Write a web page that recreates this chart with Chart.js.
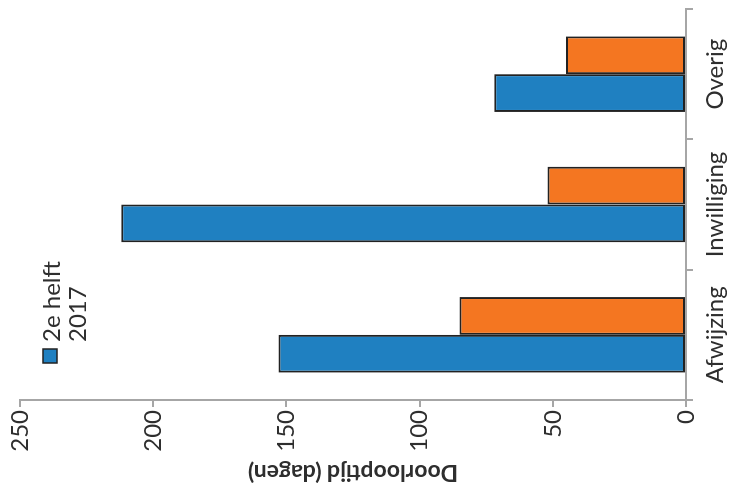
<!DOCTYPE html>
<html>
<head>
<meta charset="utf-8">
<script src="https://cdn.jsdelivr.net/npm/chart.js@4.4.1/dist/chart.umd.min.js"></script>
<style>
	html, body { margin: 0; padding: 0; background: #fff; }
	#frame { width: 731px; height: 496px; overflow: hidden; position: relative; }
	/* the chart is drawn upright and then turned a quarter to the left */
	#turn { position: absolute; left: 0; top: 0; width: 496px; height: 731px;
		transform-origin: 0 0; transform: translate(0, 496px) rotate(-90deg); }
</style>
</head>
<body>
<div id="frame"><div id="turn"><canvas id="chart" width="496" height="731"></canvas></div></div>
<script>
const categories = ['Afwijzing', 'Inwilliging', 'Overig'];
const seriesNames = ['2e helft 2017', '1e helft 2018'];
const blueValues = [153, 212, 72];
const orangeValues = [85, 52, 45];
const valueTicks = [0, 50, 100, 150, 200, 250];
const axisTitle = 'Doorlooptijd (dagen)';
const legendLines = ['2e helft', '2017'];

const axisGrey = '#a6a6a6';
const textColor = '#2e2e2e';
const fontFamily = 'Lato, "Open Sans", sans-serif';

let cornerLegend = {
	id: 'cornerLegend',
	afterDraw(chart) {
		const c = chart.ctx;
		const ds = chart.data.datasets[0];
		const left = chart.chartArea.left + 37;
		const top = chart.chartArea.top + 23;
		c.save();
		c.fillStyle = ds.backgroundColor;
		c.fillRect(left, top, 14, 14);
		c.strokeStyle = ds.borderColor;
		c.lineWidth = 1.5;
		c.strokeRect(left, top, 14, 14);
		c.fillStyle = textColor;
		c.font = '24px ' + fontFamily;
		c.textBaseline = 'alphabetic';
		for (let i = 0; i < legendLines.length; i++) {
			c.fillText(legendLines[i], left + 21, top + 17 + i * 26);
		}
		c.restore();
	}
};

const ctx = document.getElementById('chart').getContext('2d');
const chart = new Chart(ctx, {
	type: 'bar',
	data: {
		labels: categories,
		datasets: [{
			label: seriesNames[0],
			data: blueValues,
			backgroundColor: '#1f80c1',
			borderColor: '#222222',
			borderWidth: 2,
			borderSkipped: false
		}, {
			label: seriesNames[1],
			data: orangeValues,
			backgroundColor: '#f47621',
			borderColor: '#222222',
			borderWidth: 2,
			borderSkipped: false
		}]
	},
	options: {
		responsive: false,
		animation: false,
		devicePixelRatio: 1,
		layout: { padding: { top: 20, right: 9, left: 0, bottom: 0 } },
		datasets: { bar: { categoryPercentage: 0.58, barPercentage: 1 } },
		plugins: {
			legend: { display: false },
			tooltip: { enabled: false }
		},
		scales: {
			x: {
				grid: { display: true, drawOnChartArea: false, offset: true, tickLength: 7, color: axisGrey, lineWidth: 2 },
				border: { color: axisGrey, width: 2 },
				ticks: { color: textColor, padding: 8, font: { family: fontFamily, size: 24 } },
				afterFit: (scale) => { scale.height = 45; }
			},
			y: {
				min: 0,
				max: 250,
				afterBuildTicks: (scale) => { scale.ticks = valueTicks.map(v => ({ value: v })); },
				grid: { display: true, drawOnChartArea: false, tickLength: 7, color: axisGrey, lineWidth: 2 },
				border: { color: axisGrey, width: 2 },
				ticks: { color: textColor, padding: 3, font: { family: fontFamily, size: 24 } },
				title: {
					display: true,
					text: axisTitle,
					color: textColor,
					padding: { top: 10, bottom: 0 },
					font: { family: fontFamily, size: 23, weight: 'bold' }
				},
				afterFit: (scale) => { scale.width = 96; }
			}
		}
	},
	plugins: [cornerLegend]
});
</script>
</body>
</html>
